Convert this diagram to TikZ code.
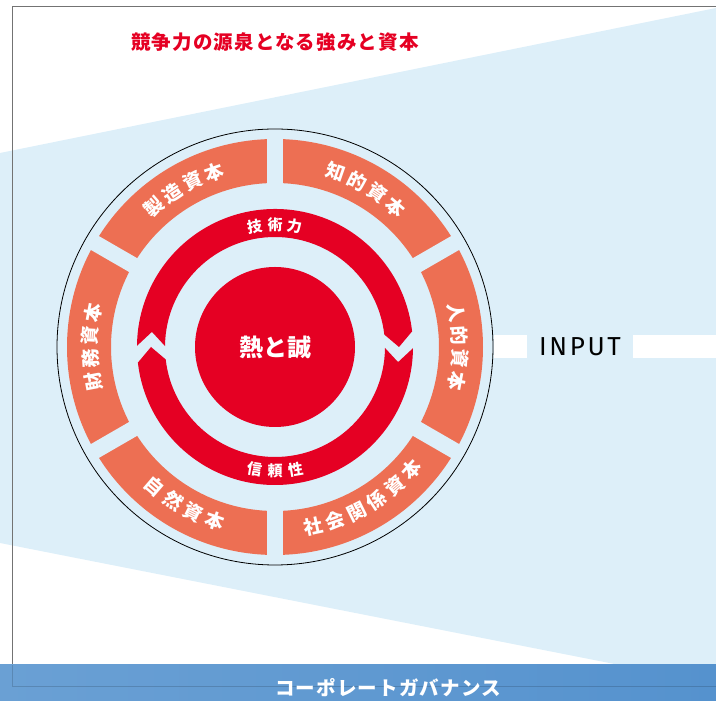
\documentclass[tikz,border=0pt]{standalone}
\usepackage{fontspec}
\setmainfont{Fira Sans}
\newfontfamily\jp{Noto Sans CJK JP}
\newfontfamily\jpwide[LetterSpace=6]{Noto Sans CJK JP}
\newfontfamily\inputfont[LetterSpace=10]{Fira Sans}

\definecolor{sky}{RGB}{221,239,249}
\definecolor{capital}{RGB}{237,111,83}
\definecolor{heat}{RGB}{229,0,35}
\definecolor{govern}{RGB}{85,146,206}
\definecolor{governlight}{RGB}{106,160,212}

\tikzset{
  captext/.style={text=white, inner sep=0pt, font=\jp\bfseries\fontsize{19}{19}\selectfont},
  ringtext/.style={text=white, inner sep=0pt, font=\jp\bfseries\fontsize{15}{15}\selectfont},
  gap/.style={draw=sky, line width=16pt},
  frameline/.style={draw=black!55, line width=1pt},
}

% one character at a time round a ring, tops outward / tops inward
% #1 name, #2 centre angle, #3 radius, #4 pitch, #5 count, #6 characters
\newcommand\ringout[6]{%
  \foreach \ch [count=\i] in {#6}{%
    \pgfmathsetmacro\ang{#2+((#5+1)/2-\i)*#4}%
    \node[rotate=\ang-90] (#1-\i) at (\ang:#3) {\ch};
  }}
\newcommand\ringin[6]{%
  \foreach \ch [count=\i] in {#6}{%
    \pgfmathsetmacro\ang{#2-((#5+1)/2-\i)*#4}%
    \node[rotate=\ang+90] (#1-\i) at (\ang:#3) {\ch};
  }}

\begin{document}
\begin{tikzpicture}[x=1pt, y=1pt]
  \useasboundingbox (0,0) rectangle (716,701);

  % background wedge and frame
  \fill[sky] (0,548) -- (716,693) -- (716,17) -- (0,158) -- cycle;
  \draw[frameline] (717,694) -- (12.7,694) -- (12.7,14) -- (717,14);

  \node[text=heat, font=\jpwide\bfseries\fontsize{19.5}{19.5}\selectfont] (title) at (275,659) {競争力の源泉となる強みと資本};

  % INPUT bar
  \fill[white] (494,343) rectangle (527,366);
  \fill[white] (633,343) rectangle (717,366);
  \node[font=\inputfont\fontsize{26}{26}\selectfont] (input) at (580,354) {INPUT};

  \begin{scope}[shift={(275,354)}]
    \draw[fill=sky, line width=0.8pt] (0,0) circle[radius=218pt];

    % six capitals
    \fill[capital, even odd rule] (0,0) circle[radius=208pt] (0,0) circle[radius=164pt];
    \foreach \a in {30,90,...,330}
      \draw[gap] (\a:158) -- (\a:214);

    \begin{scope}[every node/.style=captext]
      \ringout{seizo}{120}{185}{7.2}{4}{製,造,資,本}
      \ringout{chiteki}{60}{185}{7.2}{4}{知,的,資,本}
      \ringout{jinteki}{0}{185}{7.2}{4}{人,的,資,本}
      \ringout{zaimu}{180}{185}{7.2}{4}{財,務,資,本}
      \ringin{shizen}{240}{184}{7.2}{4}{自,然,資,本}
      \ringin{shakai}{300}{184}{7.2}{6}{社,会,関,係,資,本}
    \end{scope}

    % turning ring, two arrows chasing each other
    \foreach \r in {0,180}
      \fill[heat] (\r:124) -- (\r+6.5:138)
        arc[start angle=\r+6.5, end angle=\r+179.5, radius=138pt]
        -- (\r+173:124) -- (\r+179.5:110)
        arc[start angle=\r+179.5, end angle=\r+6.5, radius=110pt] -- cycle;

    \begin{scope}[every node/.style=ringtext]
      \ringout{gijutsu}{90}{122}{9.5}{3}{技,術,力}
      \ringin{shinrai}{270}{124}{9.5}{3}{信,頼,性}
    \end{scope}

    \fill[heat] (0,0) circle[radius=80pt];
    \node[text=white, font=\jp\bfseries\fontsize{24}{24}\selectfont] (core) at (0,0) {熱と誠};
  \end{scope}

  % governance band
  \shade[left color=governlight, right color=govern] (0,0) rectangle (716,36);
  \draw[draw=black, draw opacity=0.15, line width=1pt] (12.7,36) -- (12.7,14) -- (717,14);
  \node[text=white, font=\jpwide\bfseries\fontsize{19.5}{19.5}\selectfont] (governance) at (388,13) {コーポレートガバナンス};
\end{tikzpicture}
\end{document}
